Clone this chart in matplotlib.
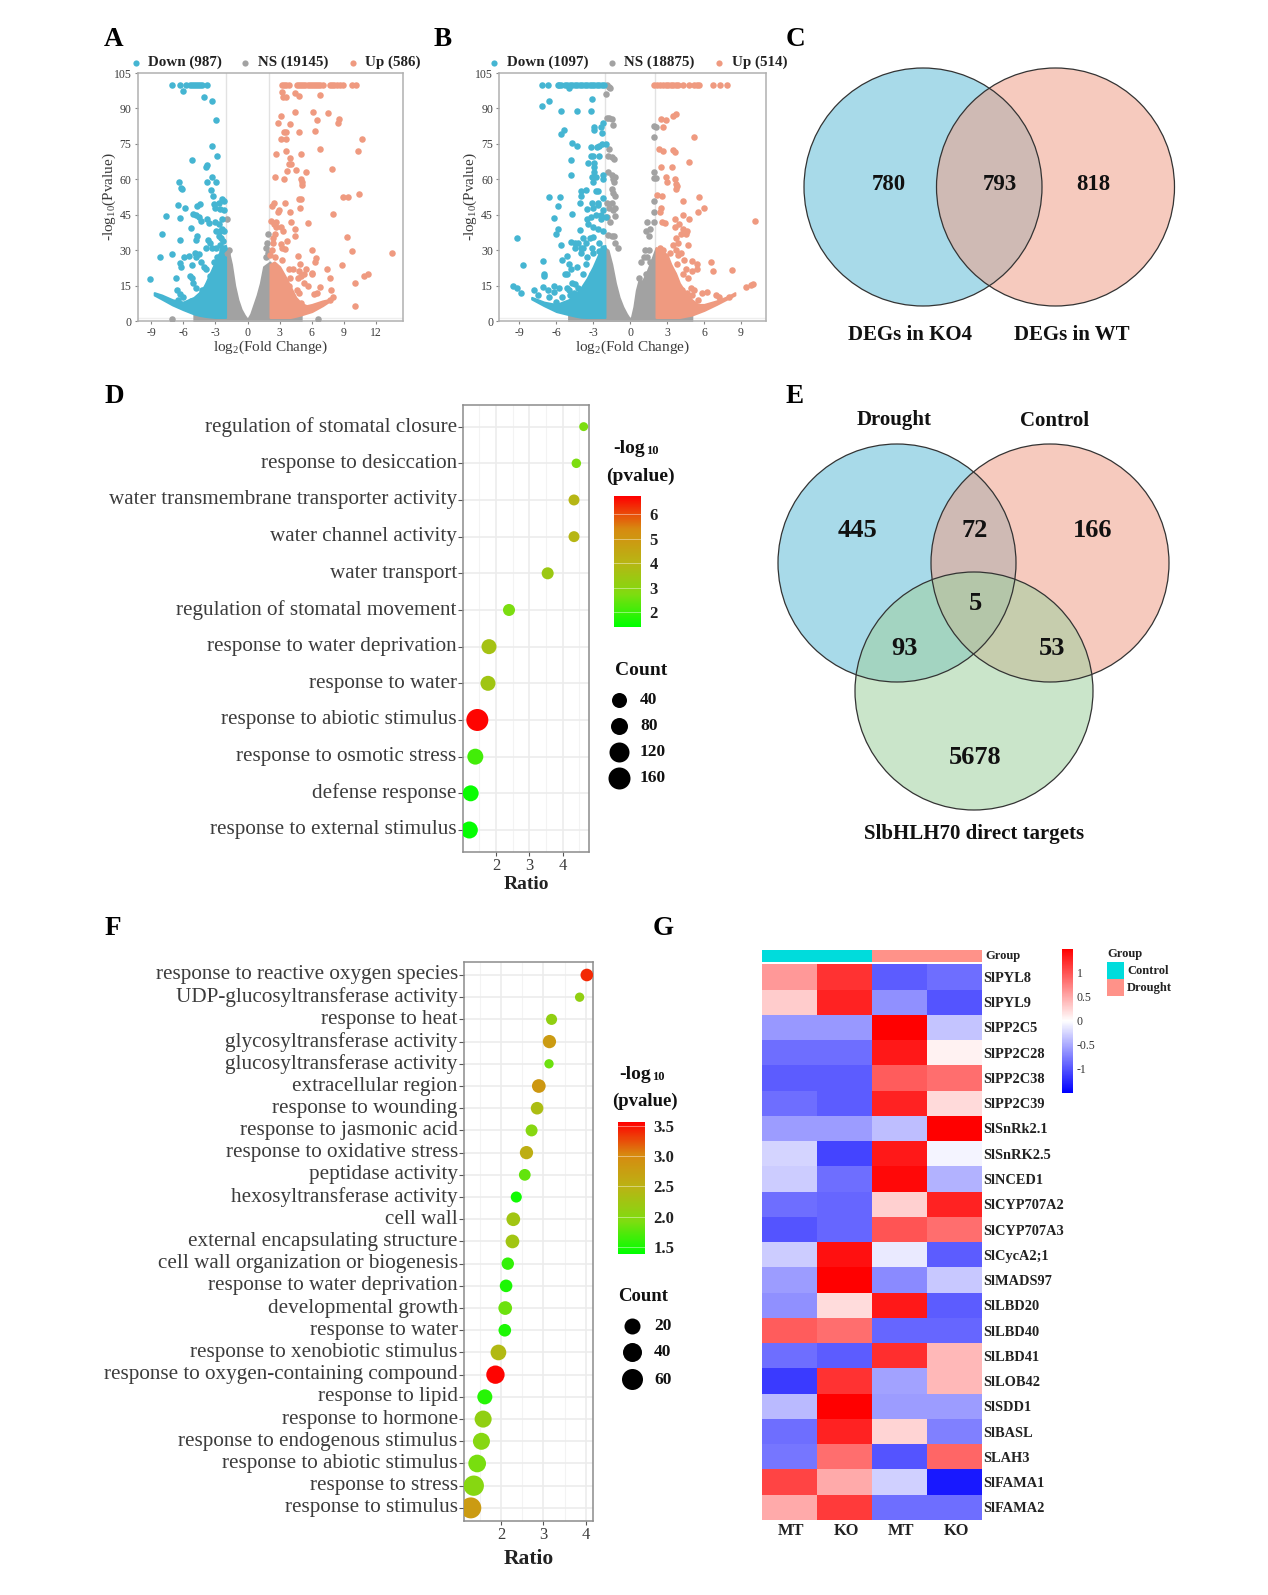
import numpy as np
import matplotlib as mpl
mpl.use('Agg')
import matplotlib.pyplot as plt
from matplotlib.colors import LinearSegmentedColormap, Normalize
from matplotlib.cm import ScalarMappable
from matplotlib.patches import Circle
from matplotlib.transforms import ScaledTranslation

plt.rcParams['font.family'] = ['Liberation Serif', 'DejaVu Serif']
plt.rcParams['mathtext.fontset'] = 'custom'
plt.rcParams['mathtext.rm'] = 'Liberation Serif'
plt.rcParams['mathtext.default'] = 'regular'
plt.rcParams['axes.unicode_minus'] = False

W, H = 1268, 1595
BLUE, GREY, SALMON = '#45b5d2', '#a2a2a2', '#ef9a80'
DARK = '#3c3c3c'

# volcano A, (log2FC, -log10 p)
a_down_top = [-7, -6.3, -5.7, -5.4, -5.2, -5, -4.8, -4.6, -4.4, -4.2, -3.8]
a_down = [(-6, 97.5), (-4.1, 95), (-3.3, 93), (-2.9, 85), (-3.3, 74), (-2.8, 70), (-5.2, 68), (-3.8, 66), (-3.9, 65),
          (-3.3, 61), (-3.8, 59), (-2.9, 59), (-6.4, 59), (-6.2, 56.5), (-6.1, 56), (-3.4, 55.5), (-3.2, 53), (-2.4, 51.5),
          (-2.2, 51), (-2.7, 50), (-3.1, 49.5), (-3, 48), (-2.6, 47.5), (-2.2, 47), (-4.4, 49.5), (-4.7, 48.5), (-6.5, 49),
          (-5.8, 48), (-7.6, 44.5), (-6.3, 43.5), (-5.1, 45.5), (-4.8, 45), (-4.5, 44), (-4.3, 42.5), (-3.8, 43), (-3.6, 41.5),
          (-3, 42), (-2.4, 43), (-2.7, 41), (-5.3, 39.5), (-8, 37), (-4.7, 36), (-4.8, 34.5), (-6.3, 34.3), (-3.7, 34.5),
          (-3.5, 33), (-2.9, 38), (-2.7, 36), (-2.5, 35), (-2.3, 34), (-2.6, 32), (-2.9, 31), (-3.3, 31), (-3.9, 31), (-4.9, 29),
          (-4.5, 28.5), (-4.8, 27), (-5.5, 27.5), (-5.9, 27), (-7, 28.3), (-8.2, 27), (-6.3, 24.5), (-6.2, 23), (-5.2, 23.5),
          (-4.3, 25), (-4.1, 23), (-3.9, 22), (-2.5, 28), (-2.3, 26), (-2.6, 24), (-3, 22), (-3.2, 20), (-3.5, 19), (-9.1, 17.7),
          (-6.7, 18), (-5.4, 19), (-5.2, 18), (-5.1, 16), (-4.8, 14), (-3.8, 15), (-4.2, 13), (-6.6, 13), (-6.3, 11.5), (-6, 10),
          (-6.5, 9), (-5.3, 8.5), (-5, 8), (-2.2, 38), (-2.4, 39), (-2.6, 38), (-2.2, 31), (-2.4, 30), (-2.8, 27), (-3.1, 25)]
a_up_top = [3.2, 3.4, 3.6, 3.9, 4.6, 4.8, 5, 5.2, 5.4, 5.6, 5.8, 6, 6.2, 6.4, 6.6, 6.8, 7, 7.7, 7.9, 8.1, 8.3, 8.6, 8.9, 9.7, 10.1]
a_up = [(3.2, 97), (3.3, 94.7), (3.6, 94.7), (4.4, 96.7), (4.8, 95.3), (6.8, 95.5), (4.4, 88.5), (3.1, 87), (6.1, 88.5),
        (7.5, 88), (8.5, 85.5), (8.4, 84), (2.8, 84), (4, 83.5), (6.5, 85), (3.4, 80), (3.6, 80), (4.8, 80), (6.3, 80.5),
        (3.1, 77), (3.6, 77), (2.7, 70.7), (3.6, 72), (5, 70.7), (6.8, 72.8), (10.7, 77), (10.3, 72), (4, 69), (3.9, 66.5),
        (4.1, 66.5), (3.7, 63.5), (4.5, 64), (5.5, 63), (7.9, 64.5), (2.6, 61), (3.4, 60), (5, 60), (5.1, 58.7), (5.1, 57.5),
        (8.9, 52.7), (9.4, 52.7), (10.4, 53.7), (4.8, 51.6), (5, 51.6), (3.5, 50), (2.5, 50), (2.3, 48.5), (4.9, 47.8), (2.9, 47),
        (2.8, 46), (4, 46), (8, 45.5), (5.6, 41.5), (2.2, 42.5), (2.7, 42), (4.1, 42), (2.5, 41), (2.7, 40), (3.1, 40), (4.4, 39),
        (3.3, 38), (4.4, 36), (9.3, 35.5), (2.6, 37), (2.4, 35), (3.7, 34), (2.4, 33), (3.1, 32.5), (3.2, 31), (3.5, 30.5), (6, 30),
        (9.7, 29.7), (13.5, 29), (2.3, 30), (2.1, 28), (2.6, 27), (4.7, 27.5), (6.4, 26.5), (6.3, 25), (3.2, 26), (5.5, 22),
        (4.9, 24), (4.8, 21), (7.4, 22), (3.9, 22), (4.2, 22), (6, 20.5), (6, 20), (5, 19), (5.3, 20), (8.8, 23.8), (7.7, 18.2),
        (10, 16.2), (10.9, 19), (11.2, 19.8), (4.7, 18), (5.3, 16), (5.6, 15), (6.8, 14.5), (4.6, 13), (4.8, 12), (6.2, 11.5),
        (6.5, 12), (7.8, 13), (8, 10), (7.7, 9), (10, 6.3), (5, 7.5), (3.9, 15), (4, 18)]
a_ns = [(-7, 1), (6.6, 1), (-1.9, 43), (-1.7, 30), (-1.9, 29), (1.9, 37), (1.8, 33), (1.7, 31), (1.9, 29), (1.7, 27)]
# outline of the solid part of each cloud: x, lower edge, upper edge
a_down_band = [(-8.7, 11, 12), (-8, 9.3, 11), (-7, 6.8, 9), (-6, 4.8, 8), (-5, 3, 10), (-4.5, 2.4, 12), (-4, 2, 15),
               (-3.5, 1.7, 20), (-3, 1.5, 25), (-2.5, 1.5, 30), (-2.05, 1.5, 32)]
a_up_band = [(2.1, 1.5, 24), (2.5, 1.5, 25), (3, 1.5, 23), (3.5, 1.5, 19), (4, 1.5, 14.5), (4.5, 2, 10), (5, 2.6, 7.5), (5.5, 3.3, 6.5),
             (6, 4, 7), (7, 6.5, 8.5), (7.5, 8, 9)]
a_ns_band = [(-5, 0, 3), (-4, 0, 2), (-2.05, 0, 30), (-1.8, 0, 30), (-1.5, 0, 24), (-1.2, 0, 15), (-0.9, 0, 9), (-0.6, 0, 5),
             (-0.3, 0, 2.5), (0, 0, 0.6), (0.3, 0, 3), (0.6, 0, 7), (0.9, 0, 11), (1.2, 0, 16), (1.5, 0, 23), (1.8, 0, 24),
             (2.1, 0, 25), (4, 0, 2), (5, 0, 2.6)]

# volcano B
b_down_top = [-7.2, -6.7, -5.9, -5.8, -5.6, -5.3, -5.1, -4.9, -4.7, -4.5, -4.3, -4.1, -3.9, -3.7, -3.5, -3.3, -3.1, -2.9, -2.7, -2.5, -2.3, -2.1]
b_down = [(-5, 98.5), (-3.1, 94), (-6.6, 93), (-7.2, 91), (-5.6, 88.7), (-4.3, 88.7), (-3.2, 89), (-2.9, 82), (-2.9, 81), (-2.4, 82),
          (-2.2, 84), (-5.4, 81), (-5.6, 79), (-2.3, 79.5), (-4.7, 75.2), (-4.3, 74), (-2.3, 75), (-2, 75), (-2.5, 74), (-3.2, 73.5),
          (-2.7, 73.5), (-3.2, 70), (-3, 70), (-2.5, 70), (-4.8, 68), (-3.4, 67), (-2.9, 67), (-2.9, 65), (-2.9, 63), (-3.1, 61),
          (-2.8, 61), (-2.2, 62), (-2.2, 60), (-4.8, 62), (-3, 59), (-3.6, 55.5), (-4, 55), (-4, 53), (-2.6, 55), (-2.8, 55),
          (-6.6, 52.5), (-5.7, 52.5), (-2.2, 52), (-2.6, 50), (-4.1, 50), (-3.1, 50), (-3, 48), (-2.6, 49), (-5.9, 48.5), (-3.5, 47.5),
          (-4.7, 45.5), (-2.2, 47), (-2.4, 45), (-2.8, 45), (-3.2, 44), (-3.5, 43), (-6.2, 43.5), (-2, 44), (-3.4, 41), (-2.4, 43),
          (-3, 40), (-2.6, 39), (-5.9, 39), (-4.1, 38.5), (-6, 36.8), (-2.2, 38), (-9.2, 35.2), (-3.8, 35), (-3.3, 35), (-3, 35.5),
          (-4.8, 33.5), (-4.5, 33), (-4.2, 33), (-3.6, 33), (-2.5, 33), (-5.6, 32), (-4.5, 31), (-4, 31), (-3.8, 31), (-3.1, 31),
          (-3, 29), (-2.5, 29.5), (-2.2, 31), (-4, 29), (-3.5, 27), (-5.5, 26), (-5.1, 27.7), (-7.1, 25.3), (-5, 24), (-3.6, 24),
          (-4.8, 22), (-4.3, 23), (-8.7, 23.7), (-7, 19.8), (-7, 19), (-5.3, 20), (-5.1, 20), (-4.7, 16), (-3.8, 20), (-3.1, 20),
          (-9.5, 14.7), (-9.2, 14), (-8.9, 12), (-7.8, 13), (-7.5, 11), (-7.1, 14.5), (-6.7, 13), (-6.2, 15), (-6.2, 12.3), (-5.8, 14),
          (-5.1, 14), (-5, 13), (-4.5, 15.5), (-4.2, 14), (-6.6, 10), (-6, 8), (-5.5, 10), (-4.9, 11), (-4.6, 12)]
b_up_top = [1.9, 2.2, 2.4, 2.7, 2.9, 3.1, 3.3, 3.5, 3.7, 3.9, 4.3, 4.8, 5.2, 5.4, 5.6, 6.7, 7.3, 7.9]
b_up = [(3.5, 87), (3.7, 87.8), (2.5, 85.5), (2.9, 85), (2.7, 82), (5.2, 77.8), (2.7, 72), (3.5, 72.5), (3.6, 71.5), (2.3, 73),
        (4.8, 67.5), (2.5, 65), (3.4, 65), (2.9, 61), (3.6, 60), (3, 59), (3.7, 58), (3.8, 57), (3.7, 56), (2.2, 53.5), (2.6, 53),
        (4.3, 51), (5.6, 52.5), (2.5, 48), (2.4, 46), (6, 47.8), (5.5, 46), (4.3, 45), (4.8, 43), (3.6, 43), (2.6, 42), (10.1, 42.5),
        (2.8, 41.5), (4, 41), (3.6, 40), (4.3, 39), (4.6, 38), (4.1, 37), (4.5, 37), (3.7, 35), (3.9, 33), (3.5, 32), (4.7, 32),
        (2.4, 31), (2.7, 30), (3.2, 29), (3.7, 30), (3.9, 28), (4.1, 29), (5, 25.5), (6.6, 25), (5.4, 24), (5.4, 22), (4.4, 26),
        (3.8, 24), (4.5, 22), (6.7, 21), (8.3, 21.5), (5, 21), (4.3, 20), (4.7, 18), (3.5, 20), (10, 15.7), (9.8, 15.2), (9.4, 14.5),
        (6.2, 12.3), (5.8, 12), (7, 11), (7.2, 10), (8, 10), (5.2, 13), (4.9, 14), (4.6, 12), (4.2, 13), (5, 11), (5.5, 9), (6, 6)]
b_ns = [(-1.9, 100), (-1.7, 99), (-1.6, 98.5), (-2, 96), (-1.9, 86), (-1.7, 86), (-1.5, 85.5), (-1.4, 83), (-1.7, 73), (-1.8, 70),
        (-1.5, 69.5), (-1.3, 68.5), (-1.8, 63), (-1.5, 62), (-1.2, 61), (-1.4, 60), (-1.3, 59), (-1.5, 56), (-1.4, 54), (-1.2, 53),
        (-1.9, 50), (-1.5, 50), (-1.7, 48), (-1.2, 48), (-1.4, 47), (-1.2, 44.5), (-1.9, 44), (-1.6, 42), (-1.8, 36.5), (-1.5, 36),
        (-1.3, 36), (-1.2, 33), (-1, 31), (1.9, 82.5), (2.1, 82), (1.9, 78), (1.4, 42), (1.9, 42), (1.9, 46), (1.9, 51), (1.9, 60.5),
        (1.9, 63), (2.1, 60.5), (1.6, 39), (1.3, 38), (1.5, 36), (1.2, 30), (1.5, 30), (1.1, 27), (0.9, 25), (1.4, 27), (1.6, 25),
        (1.3, 20), (0.7, 18)]
b_down_band = [(-8, 9.3, 10), (-7, 6.5, 8), (-6, 4, 7), (-5, 2.7, 9), (-4.5, 2.1, 11), (-4, 1.6, 14), (-3.5, 1.5, 18), (-3, 1.5, 23),
               (-2.5, 1.5, 29), (-2.05, 1.5, 32)]
b_up_band = [(2.1, 1.5, 31), (2.5, 1.5, 30), (3, 1.5, 28), (3.3, 1.5, 24), (3.7, 1.5, 20), (4, 1.5, 16), (4.5, 2, 12), (5, 2.5, 9),
             (5.5, 3.5, 7), (6, 4.5, 7), (7, 7, 8.5), (8, 9.7, 10.5), (8.5, 11, 12)]
b_ns_band = [(-5, 0, 2.7), (-4, 0, 1.6), (-2.05, 0, 31), (-1.8, 0, 30), (-1.5, 0, 24), (-1.2, 0, 16), (-0.9, 0, 10), (-0.6, 0, 6),
             (-0.3, 0, 3), (-0.05, 0, 1), (0.1, 0, 1.5), (0.3, 0, 6), (0.5, 0, 13), (0.7, 0, 17), (1, 0, 17), (1.3, 0, 20), (1.6, 0, 24),
             (2.1, 0, 31), (4, 0, 1.5), (5, 0, 2.5)]

# bubble plot D
d_terms = ['regulation of stomatal closure', 'response to desiccation', 'water transmembrane transporter activity',
           'water channel activity', 'water transport', 'regulation of stomatal movement', 'response to water deprivation',
           'response to water', 'response to abiotic stimulus', 'response to osmotic stress', 'defense response',
           'response to external stimulus']
d_ratio = [4.63, 4.41, 4.34, 4.34, 3.55, 2.39, 1.79, 1.76, 1.44, 1.38, 1.24, 1.2]
d_pval = [2.7, 2.7, 4.0, 4.0, 3.4, 2.7, 3.6, 3.5, 6.7, 2.1, 1.5, 1.45]
d_count = [11, 17, 34, 34, 46, 46, 80, 80, 160, 91, 91, 103]

# bubble plot F
f_terms = ['response to reactive oxygen species', 'UDP-glucosyltransferase activity', 'response to heat',
           'glycosyltransferase activity', 'glucosyltransferase activity', 'extracellular region', 'response to wounding',
           'response to jasmonic acid', 'response to oxidative stress', 'peptidase activity', 'hexosyltransferase activity',
           'cell wall', 'external encapsulating structure', 'cell wall organization or biogenesis', 'response to water deprivation',
           'developmental growth', 'response to water', 'response to xenobiotic stimulus', 'response to oxygen-containing compound',
           'response to lipid', 'response to hormone', 'response to endogenous stimulus', 'response to abiotic stimulus',
           'response to stress', 'response to stimulus']
f_ratio = [4.02, 3.85, 3.19, 3.14, 3.13, 2.89, 2.85, 2.72, 2.6, 2.56, 2.36, 2.29, 2.27, 2.16, 2.12, 2.1, 2.09, 1.94, 1.87, 1.62, 1.58, 1.54, 1.44, 1.36, 1.29]
f_pval = [3.4, 2.1, 2.1, 2.8, 1.85, 2.85, 2.35, 2.0, 2.55, 1.8, 1.45, 2.25, 2.25, 1.6, 1.5, 1.85, 1.5, 2.4, 3.55, 1.55, 2.1, 2.0, 1.9, 2.0, 2.8]
f_count = [21, 6, 14, 24, 6, 26, 21, 18, 24, 17, 14, 26, 26, 20, 21, 26, 21, 35, 47, 32, 41, 41, 44, 56, 59]

# heatmap G
genes = ['SlPYL8', 'SlPYL9', 'SlPP2C5', 'SlPP2C28', 'SlPP2C38', 'SlPP2C39', 'SlSnRk2.1', 'SlSnRK2.5', 'SlNCED1', 'SlCYP707A2',
         'SlCYP707A3', 'SlCycA2;1', 'SlMADS97', 'SlLBD20', 'SlLBD40', 'SlLBD41', 'SlLOB42', 'SlSDD1', 'SlBASL', 'SLAH3', 'SlFAMA1', 'SlFAMA2']
samples = ['MT', 'KO', 'MT', 'KO']
expr = [[.6, 1.2, -.95, -.85], [.3, 1.3, -.65, -1.0], [-.6, -.6, 1.5, -.35], [-.85, -.85, 1.35, .08], [-.95, -.95, .95, .85],
        [-.85, -.95, 1.3, .22], [-.58, -.58, -.38, 1.5], [-.25, -1.1, 1.35, -.07], [-.3, -.85, 1.45, -.45], [-.85, -.9, .28, 1.3],
        [-1.0, -.9, 1.0, .85], [-.3, 1.4, -.12, -.95], [-.58, 1.5, -.68, -.32], [-.65, .2, 1.35, -.95], [.95, .85, -.9, -.9],
        [-.85, -.95, 1.22, .42], [-1.15, 1.2, -.55, .42], [-.4, 1.5, -.58, -.58], [-.85, 1.3, .25, -.75], [-.8, .85, -1.0, .9],
        [1.1, .5, -.28, -1.35], [.5, 1.15, -.85, -.85]]

venn_c = ['780', '793', '818']
venn_e = ['445', '72', '166', '5', '93', '53', '5678']

gyr = LinearSegmentedColormap.from_list('gyr', ['#00ff00', '#7fdc10', '#b9b414', '#d78a10', '#ff0000'])
bwr2 = LinearSegmentedColormap.from_list('bwr2', ['#0000ff', '#ffffff', '#ff0000'])

fig = plt.figure(figsize=(W / 100, H / 100), dpi=100)


def px_axes(left, top, right, bottom, **kw):
    return fig.add_axes([left / W, 1 - bottom / H, (right - left) / W, (bottom - top) / H], **kw)


def volcano(box, xlim, xticks, down_top, down, up_top, up, ns, down_band, up_band, ns_band):
    ax = px_axes(*box)
    for band, col in [(ns_band, GREY), (down_band, BLUE), (up_band, SALMON)]:
        bx, lo, hi = np.array(band).T
        ax.fill_between(bx, lo, hi, color=col, lw=1.5, zorder=2)
    for pts, top, col in [(ns, [], GREY), (down, down_top, BLUE), (up, up_top, SALMON)]:
        px, py = np.array(pts).T
        ax.scatter(px, py, s=22, c=col, lw=0, zorder=3)
        ax.scatter(top, [100] * len(top), s=22, c=col, lw=0, zorder=3)
    for v in (-2.05, 2.05):
        ax.axvline(v, color='#e2e2e2', lw=1, zorder=1)
    ax.axhline(1.3, color='#eeeeee', lw=1, zorder=1)
    ax.set_xticks(xticks)
    ax.set_yticks(range(0, 106, 15))
    ax.set_xlim(*xlim)
    ax.set_ylim(0, 105)
    ax.tick_params(labelsize=8.5, labelcolor=DARK, color='#888888', length=2.5, pad=2, width=0.8)
    for s in ax.spines.values():
        s.set_color('#b0b0b0')
        s.set_linewidth(1.1)
    ax.set_xlabel('log$_2$(Fold Change)', fontsize=11, color=DARK, labelpad=-0.5)
    ax.set_ylabel('-log$_{10}$(Pvalue)', fontsize=11, color=DARK, labelpad=-3)
    return ax


volcano((137.7, 73, 403, 321), (-10.24, 14.5), range(-9, 13, 3), a_down_top, a_down, a_up_top, a_up, a_ns,
        a_down_band, a_up_band, a_ns_band)
volcano((499.3, 73, 766, 321), (-10.63, 11.03), range(-9, 10, 3), b_down_top, b_down, b_up_top, b_up, b_ns,
        b_down_band, b_up_band, b_ns_band)


def bubbles(box, ylim, terms, ratio, pval, count, xlim, vrange, cticks, cbox, dia_k, ratio_size, ratio_pad):
    ax = px_axes(*box)
    norm = Normalize(*vrange)
    dia = 8 + dia_k * np.array(count)  # pixels
    ax.scatter(ratio, range(len(terms)), s=(dia * 0.72) ** 2, c=pval, cmap=gyr, norm=norm, lw=0, zorder=3)
    ax.set_xticks([2, 3, 4])
    ax.set_yticks(range(len(terms)))
    ax.set_yticklabels(terms)
    ax.grid(color='#ececec', lw=1.2, zorder=0)
    ax.set_xticks([1.5, 2.5, 3.5, 4.5], minor=True)
    ax.grid(which='minor', axis='x', color='#f3f3f3', lw=0.8)
    ax.set_xlim(*xlim)
    ax.set_ylim(*ylim)
    ax.tick_params(which='minor', length=0)
    ax.tick_params(axis='y', labelsize=15.2, labelcolor=DARK, color='#555555', length=3.5, pad=1)
    ax.tick_params(axis='x', labelsize=12, labelcolor=DARK, color='#555555', length=3, pad=1)
    up = ScaledTranslation(0, 2.5 / 100, fig.dpi_scale_trans)
    for lab in ax.get_yticklabels():
        lab.set_transform(lab.get_transform() + up)
    for s in ax.spines.values():
        s.set_color('#8c8c8c')
        s.set_linewidth(1.1)
    ax.set_xlabel('Ratio', fontsize=ratio_size, fontweight='bold', color='#222222', labelpad=ratio_pad)
    cax = px_axes(*cbox)
    cb = fig.colorbar(ScalarMappable(norm=norm, cmap=gyr), cax=cax, ticks=cticks)
    cb.outline.set_visible(False)
    cb.ax.tick_params(length=0, labelsize=12, pad=6)
    cb.ax.set_yticklabels(cb.ax.get_yticklabels(), fontweight='bold', color='#222222')
    for t in cticks:
        cax.axhline(t, color='white', lw=0.6, alpha=0.5)
    return ax


bubbles((463, 405, 589, 852), (11.6, -0.59), d_terms, d_ratio, d_pval, d_count, (1.01, 4.79),
        (1.4, 6.75), [2, 3, 4, 5, 6], (614, 496, 641, 627), 0.0875, 14, 2)
bubbles((464, 962, 593, 1521), (24.59, -0.585), f_terms, f_ratio, f_pval, f_count, (1.13, 4.165),
        (1.38, 3.57), [1.5, 2, 2.5, 3, 3.5], (618, 1122, 645, 1254), 0.22, 15.5, 5)

# heatmap with group bar
hm = px_axes(761.7, 964.3, 981.7, 1520)
hm.pcolormesh(np.array(expr)[::-1], cmap=bwr2, vmin=-1.5, vmax=1.5, lw=0)
hm.set_xticks(np.arange(4) + 0.5)
hm.set_xticklabels(samples, fontsize=11.8, fontweight='bold', color='#222222')
hm.set_yticks(np.arange(len(genes)) + 0.5)
hm.set_yticklabels(genes[::-1], fontsize=10.4, fontweight='bold', color='#222222')
hm.yaxis.tick_right()
hm.tick_params(length=0, pad=1)
hm.tick_params(axis='x', pad=2)
right = ScaledTranslation(2 / 100, 0, fig.dpi_scale_trans)
for lab in hm.get_xticklabels():
    lab.set_transform(lab.get_transform() + right)
for s in hm.spines.values():
    s.set_visible(False)

group = px_axes(761.7, 950, 981.7, 962.3)
group.pcolormesh(np.array([[0, 0, 1, 1]]), cmap=LinearSegmentedColormap.from_list('grp', ['#00dcdc', '#ff9289']), lw=0)
group.axis('off')

hcb = px_axes(1062, 949, 1072.7, 1092.7)
cb = fig.colorbar(ScalarMappable(norm=Normalize(-1.5, 1.5), cmap=bwr2), cax=hcb, ticks=[-1, -0.5, 0, 0.5, 1])
cb.outline.set_visible(False)
cb.ax.set_yticklabels(['-1', '-0.5', '0', '0.5', '1'])
cb.ax.tick_params(length=0, labelsize=8.5, labelcolor='#333333', pad=3)

# everything placed by hand goes on a pixel overlay
top = fig.add_axes([0, 0, 1, 1], zorder=10)
top.set_xlim(0, W)
top.set_ylim(H, 0)
top.axis('off')
top.patch.set_alpha(0)


def txt(x, y, s, size=12, weight='bold', ha='center', color='#111111', **kw):
    top.text(x, y + 2.5, s, fontsize=size, fontweight=weight, ha=ha, va='center', color=color, **kw)


for x, y, s in [(114, 37, 'A'), (443, 37, 'B'), (795, 37, 'C'), (114, 394, 'D'), (795, 394, 'E'), (113, 926, 'F'), (663, 926, 'G')]:
    txt(x, y, s, size=19.5, color='black')

for dot_x, txt_x, label, col in [(135.7, 148, 'Down (987)', BLUE), (245, 258, 'NS (19145)', GREY), (353, 365, 'Up (586)', SALMON),
                                 (494, 506.7, 'Down (1097)', BLUE), (611.7, 624, 'NS (18875)', GREY), (718.7, 731.7, 'Up (514)', SALMON)]:
    top.scatter([dot_x], [62.5], s=20, c=col, lw=0)
    txt(txt_x, 60, label, size=10.8, ha='left', color='#222222')

# venn C
for cx, col in [(923, '#62bdd8'), (1055.5, '#f0a08a')]:
    top.add_patch(Circle((cx, 187), 119, fc=col, alpha=0.55, ec='none', zorder=1))
    top.add_patch(Circle((cx, 187), 119, fc='none', ec='#333333', lw=0.9, zorder=2))
for (x, y), s in zip([(889, 182), (999.5, 182), (1093, 182)], venn_c):
    txt(x, y, s, size=16.5)
txt(910, 332, 'DEGs in KO4', size=15)
txt(1072, 332, 'DEGs in WT', size=15)

# venn E
for cx, cy, col in [(897, 563, '#62bdd8'), (1050, 563, '#f0a08a'), (974, 691, '#9fd0a0')]:
    top.add_patch(Circle((cx, cy), 119, fc=col, alpha=0.55, ec='none', zorder=1))
    top.add_patch(Circle((cx, cy), 119, fc='none', ec='#333333', lw=0.9, zorder=2))
for (x, y), s in zip([(857, 528), (975, 528), (1093, 528), (975, 601), (904, 646), (1052, 646), (975, 754.5)], venn_e):
    txt(x, y, s, size=19)
txt(894, 418, 'Drought', size=15)
txt(1054.5, 418, 'Control', size=15)
txt(974, 832, 'SlbHLH70 direct targets', size=15)

# bubble legends
txt(645, 446, '-log', size=14, ha='right')
txt(646, 448, '10', size=9, ha='left')
txt(640, 474, '(pvalue)', size=14)
txt(641, 668, 'Count', size=14)
for y, d, s in zip([700, 726, 752, 778], [15, 17, 20, 22], ['40', '80', '120', '160']):
    top.scatter([618.7], [y], s=(d * 0.72) ** 2, c='black', lw=0)
    txt(640, y - 2, s, size=12.5, ha='left')

txt(651, 1072, '-log', size=14, ha='right')
txt(652, 1074, '10', size=9, ha='left')
txt(645, 1099, '(pvalue)', size=13.5)
txt(643, 1294, 'Count', size=13.5)
for y, d, s in zip([1326, 1352, 1379], [16, 19, 21], ['20', '40', '60']):
    top.scatter([631.5], [y], s=(d * 0.72) ** 2, c='black', lw=0)
    txt(654, y - 2, s, size=12.5, ha='left')

# heatmap extras
txt(985, 954, 'Group', size=9, ha='left', color='#222222')
txt(1107, 952, 'Group', size=9, ha='left', color='#222222')
for y0, col, s in [(962, '#00dcdc', 'Control'), (979, '#ff9289', 'Drought')]:
    top.fill_between([1107, 1124], y0, y0 + 17, color=col, lw=0)
    txt(1127, y0 + 6.5, s, size=9, ha='left', color='#222222')

fig.savefig('out.png', dpi=100)
